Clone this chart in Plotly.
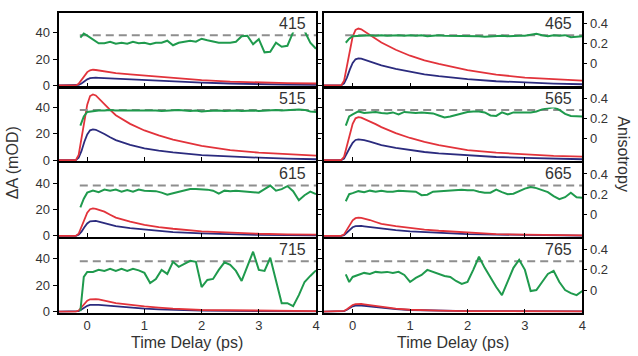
import plotly.graph_objects as go

# Probe wavelengths (nm), one panel each
WAVELENGTHS = ["415", "465", "515", "565", "615", "665", "715", "765"]

# Kinetics time axis (ps)
K_T = [-0.5, -0.2, -0.15, -0.1, -0.05, 0.0, 0.05, 0.1, 0.15, 0.2, 0.3, 0.4,
       0.5, 0.75, 1.0, 1.25, 1.5, 2.0, 2.5, 3.0, 3.5, 4.0]

# Parallel (red) transients, ΔA in mOD
PAR = {
    "415": [0, 0, 1.2, 4.2, 7.7, 10.1, 11.5, 11.9, 11.7, 11.3, 10.6, 10.0, 9.4, 8.4, 7.5, 6.6, 5.8, 4.0, 2.9, 2.2, 1.8, 1.5],
    "465": [0, 0, 3.5, 14, 27, 37, 42, 43.1, 42.5, 41, 38.5, 35.5, 32.5, 27, 22.5, 19, 16.3, 11.6, 8.2, 6.0, 4.7, 3.7],
    "515": [0, 0, 4, 16, 30, 42, 48.5, 49.8, 49, 47, 42.5, 38, 34, 27.5, 22.5, 18.8, 15.6, 10.8, 7.6, 5.7, 4.4, 3.4],
    "565": [0, 0, 2.6, 10.5, 19.5, 27.5, 31.7, 32.5, 32.2, 31.3, 29.5, 27.3, 25, 20.5, 16.8, 13.8, 11.4, 7.6, 5.7, 4.2, 3.2, 2.7],
    "615": [0, 0, 1.6, 6.5, 12.5, 17.5, 20.2, 20.8, 20.5, 19.8, 18.3, 16, 13.8, 10.8, 8.4, 6.7, 5.4, 3.4, 2.4, 1.6, 1.2, 0.9],
    "665": [0, 0, 1.1, 4.4, 8.4, 11.8, 13.4, 13.8, 13.6, 13.1, 12, 10.5, 9.1, 7.4, 5.9, 4.8, 3.9, 2.4, 1.4, 0.9, 0.6, 0.4],
    "715": [0, 0, 0.8, 3, 5.8, 8.2, 9.3, 9.6, 9.5, 9.2, 8.5, 7.4, 6.4, 5.0, 3.9, 3.0, 2.2, 1.2, 0.9, 0.7, 0.5, 0.4],
    "765": [0, 0, 0.5, 1.8, 3.5, 5.0, 5.7, 5.9, 5.8, 5.5, 4.9, 4.0, 3.2, 2.2, 1.4, 1.0, 0.7, 0.4, 0.3, 0.2, 0.2, 0.2],
}

# Perpendicular (blue) transients, ΔA in mOD
PERP = {
    "415": [0, 0, 0.4, 1.5, 3.2, 4.6, 5.5, 5.9, 5.9, 5.8, 5.6, 5.3, 5.0, 4.5, 3.9, 3.4, 2.9, 2.2, 1.5, 0.9, 0.6, 0.4],
    "465": [0, 0, 1.5, 6, 12, 17, 19.8, 20.5, 20.3, 19.6, 18.4, 16.8, 15.2, 12.5, 10.2, 8.4, 7.0, 4.8, 3.2, 2.2, 1.4, 0.9],
    "515": [0, 0, 1.8, 7, 14, 19.5, 22.6, 23.3, 23, 22, 19.8, 17.3, 15.2, 11.6, 9.0, 7.2, 5.9, 3.9, 2.7, 1.9, 1.2, 0.7],
    "565": [0, 0, 1.2, 4.8, 9.4, 13.2, 15.3, 15.8, 15.6, 15.1, 14.1, 12.8, 11.4, 9.3, 7.6, 6.2, 5.2, 3.7, 2.4, 1.7, 1.2, 0.7],
    "615": [0, 0, 0.8, 3.2, 6.5, 9.4, 11, 11.4, 11.3, 10.8, 9.8, 8.4, 7.3, 5.8, 4.7, 3.7, 2.9, 1.9, 1.2, 0.7, 0.5, 0.4],
    "665": [0, 0, 0.6, 2.4, 4.6, 6.5, 7.4, 7.6, 7.5, 7.2, 6.6, 6.0, 5.4, 4.3, 3.4, 2.8, 2.2, 1.4, 1.0, 0.7, 0.4, 0.2],
    "715": [0, 0, 0.4, 1.6, 3.2, 4.4, 5.0, 5.2, 5.1, 5.0, 4.6, 4.1, 3.7, 2.9, 2.2, 1.7, 1.2, 0.7, 0.5, 0.3, 0.2, 0.2],
    "765": [0, 0, 0.4, 1.4, 2.8, 4.0, 4.5, 4.7, 4.6, 4.4, 3.9, 3.3, 2.7, 1.9, 1.2, 0.9, 0.6, 0.4, 0.3, 0.2, 0.2, 0.2],
}

# Anisotropy time axis (ps)
A_T = [-0.12, -0.06, 0.0, 0.1, 0.2, 0.3, 0.4, 0.5, 0.6, 0.7, 0.8, 0.9, 1.0,
       1.1, 1.2, 1.3, 1.4, 1.5, 1.6, 1.7, 1.8, 1.9, 2.0, 2.1, 2.2, 2.3, 2.4,
       2.5, 2.6, 2.7, 2.8, 2.9, 3.0, 3.1, 3.2, 3.3, 3.4, 3.5, 3.6, 3.7, 3.8,
       3.9, 4.0]

# Anisotropy r(t) (green)
ANIS = {
    "415": [0.26, 0.30, 0.28, 0.24, 0.205, 0.205, 0.22, 0.20, 0.21, 0.20, 0.22, 0.205, 0.21,
            0.195, 0.21, 0.21, 0.23, 0.185, 0.21, 0.22, 0.23, 0.22, 0.25, 0.235, 0.22, 0.21, 0.21,
            0.21, 0.22, 0.275, 0.28, 0.195, 0.245, 0.115, 0.12, 0.21, 0.17, 0.18, 0.315, 0.39, 0.325,
            0.21, 0.15],
    "465": [0.21, 0.25, 0.275, 0.28, 0.285, 0.285, 0.28, 0.285, 0.28, 0.285, 0.285, 0.28, 0.285,
            0.28, 0.285, 0.275, 0.28, 0.285, 0.28, 0.28, 0.28, 0.275, 0.28, 0.28, 0.275, 0.27, 0.275,
            0.275, 0.28, 0.275, 0.28, 0.28, 0.28, 0.29, 0.30, 0.285, 0.275, 0.285, 0.28, 0.285, 0.265,
            0.27, 0.275],
    "515": [0.13, 0.22, 0.265, 0.275, 0.28, 0.28, 0.285, 0.28, 0.28, 0.285, 0.28, 0.28, 0.285,
            0.28, 0.28, 0.275, 0.28, 0.28, 0.285, 0.28, 0.275, 0.28, 0.27, 0.275, 0.28, 0.28, 0.275,
            0.28, 0.28, 0.275, 0.28, 0.28, 0.275, 0.28, 0.28, 0.285, 0.28, 0.285, 0.29, 0.29, 0.285,
            0.27, 0.265],
    "565": [0.13, 0.22, 0.24, 0.27, 0.255, 0.26, 0.265, 0.255, 0.25, 0.26, 0.24, 0.265, 0.26,
            0.255, 0.26, 0.255, 0.25, 0.23, 0.21, 0.22, 0.235, 0.25, 0.265, 0.27, 0.27, 0.26, 0.23,
            0.225, 0.26, 0.24, 0.26, 0.26, 0.26, 0.26, 0.27, 0.29, 0.30, 0.31, 0.285, 0.245, 0.225,
            0.22, 0.22],
    "615": [0.07, 0.155, 0.215, 0.235, 0.22, 0.245, 0.235, 0.245, 0.225, 0.24, 0.225, 0.245, 0.235,
            0.235, 0.23, 0.215, 0.195, 0.21, 0.225, 0.24, 0.25, 0.25, 0.25, 0.245, 0.235, 0.205, 0.235,
            0.23, 0.235, 0.23, 0.225, 0.22, 0.215, 0.25, 0.285, 0.235, 0.25, 0.28, 0.23, 0.14, 0.19,
            0.225, 0.2],
    "665": [0.13, 0.2, 0.21, 0.23, 0.22, 0.235, 0.225, 0.235, 0.225, 0.225, 0.235, 0.23, 0.23,
            0.225, 0.19, 0.195, 0.225, 0.23, 0.235, 0.24, 0.24, 0.245, 0.24, 0.24, 0.225, 0.215, 0.215,
            0.245, 0.22, 0.2, 0.205, 0.23, 0.255, 0.27, 0.26, 0.24, 0.22, 0.18, 0.15, 0.17, 0.215,
            0.17, 0.165],
    "715": [-0.21, 0.13, 0.18, 0.18, 0.2, 0.19, 0.21, 0.19, 0.21, 0.19, 0.21, 0.195, 0.17,
            0.07, 0.11, 0.2, 0.16, 0.28, 0.23, 0.26, 0.29, 0.28, 0.03, 0.1, 0.11, 0.2, 0.275,
            0.25, 0.19, 0.09, 0.24, 0.38, 0.2, 0.19, 0.32, 0.1, -0.13, -0.13, -0.16, -0.05, 0.08,
            0.14, 0.195],
    "765": [0.155, 0.08, 0.13, 0.15, 0.17, 0.16, 0.18, 0.175, 0.18, 0.17, 0.18, 0.15, 0.08,
            0.12, 0.15, 0.2, 0.18, 0.16, 0.14, 0.13, 0.09, 0.06, 0.08, 0.2, 0.33, 0.22, 0.12,
            0.03, -0.05, 0.08, 0.22, 0.3, 0.2, -0.01, 0.0, 0.08, 0.16, 0.19, 0.08, 0.0, -0.03,
            -0.05, -0.01],
}

# Initial anisotropy reference level (dashed)
R_REF = 0.285
R_REF_T = [-0.13, 4.0]

RED = "#e2333b"
BLUE = "#2b2b7e"
GREEN = "#1f9a4d"
GREY = "#8e8e8e"
FONT = "Liberation Sans, Arial, sans-serif"
TXT = "#333333"

W, H = 638, 356
COL_X = [(59, 318), (326, 586)]
ROW_Y = [(13, 88), (89, 164), (166, 241), (243, 318)]

fig = go.Figure()
layout = dict(
    width=W, height=H, margin=dict(l=0, r=0, t=0, b=0),
    paper_bgcolor="white", plot_bgcolor="white", showlegend=False,
    font=dict(family=FONT, color=TXT, size=13),
)
annotations = []

for i, wl in enumerate(WAVELENGTHS):
    r, c = divmod(i, 2)
    k = i + 1
    k2 = i + 9
    xs = "" if k == 1 else str(k)
    xname, yname, y2name = "x" + xs, "y" + xs, "y" + str(k2)
    x0, x1 = COL_X[c]
    ytop, ybot = ROW_Y[r]
    bottom = r == 3

    layout["xaxis" + xs] = dict(
        domain=[x0 / W, x1 / W], anchor=yname, range=[-0.5, 4.0],
        tickvals=[0, 1, 2, 3, 4], ticks="inside", ticklen=4, tickwidth=1,
        tickcolor="black", showticklabels=bottom, tickfont=dict(size=13),
        showline=True, mirror=True, linewidth=2, linecolor="black",
        showgrid=False, zeroline=False,
    )
    layout["yaxis" + xs] = dict(
        domain=[1 - ybot / H, 1 - ytop / H], anchor=xname, range=[-0.8, 55],
        tickvals=[0, 20, 40], ticks="outside", ticklen=4, tickwidth=1,
        tickcolor="black", showticklabels=(c == 0), tickfont=dict(size=13),
        showline=True, mirror=True, linewidth=2, linecolor="black",
        showgrid=False, zeroline=False,
    )
    layout["yaxis" + str(k2)] = dict(
        overlaying=yname, anchor=xname, side="right", range=[-0.224, 0.507],
        tickvals=[0, 0.2, 0.4], ticktext=["0", "0.2", "0.4"],
        ticks="outside", ticklen=4, tickwidth=1, tickcolor="black",
        showticklabels=(c == 1), tickfont=dict(size=13),
        showline=False, showgrid=False, zeroline=False,
    )

    fig.add_trace(go.Scatter(x=K_T, y=PERP[wl], mode="lines", xaxis=xname, yaxis=yname,
                             line=dict(color=BLUE, width=1.8)))
    fig.add_trace(go.Scatter(x=K_T, y=PAR[wl], mode="lines", xaxis=xname, yaxis=yname,
                             line=dict(color=RED, width=1.8)))
    fig.add_trace(go.Scatter(x=R_REF_T, y=[R_REF, R_REF], mode="lines", xaxis=xname, yaxis=y2name,
                             line=dict(color=GREY, width=2, dash="8px,5px")))
    fig.add_trace(go.Scatter(x=A_T, y=ANIS[wl], mode="lines", xaxis=xname, yaxis=y2name,
                             line=dict(color=GREEN, width=2)))

    annotations.append(dict(
        text=wl, xref=xname + " domain", yref=yname + " domain", x=1, y=1,
        xanchor="right", yanchor="top", xshift=-9, yshift=-1, showarrow=False,
        bgcolor="white", borderpad=0, font=dict(size=16, color=TXT),
    ))

for c in range(2):
    x0, x1 = COL_X[c]
    annotations.append(dict(
        text="Time Delay (ps)", xref="paper", yref="paper", x=(x0 + x1) / 2 / W,
        y=1 - 348 / H, xanchor="center", yanchor="middle", showarrow=False,
        font=dict(size=16, color=TXT),
    ))

annotations.append(dict(
    text="ΔA (mOD)", xref="paper", yref="paper", x=12 / W, y=1 - 165 / H,
    textangle=-90, xanchor="center", yanchor="middle", showarrow=False,
    font=dict(size=16, color=TXT),
))
annotations.append(dict(
    text="Anisotropy", xref="paper", yref="paper", x=628 / W, y=1 - 157 / H,
    textangle=90, xanchor="center", yanchor="middle", showarrow=False,
    font=dict(size=16, color=TXT),
))

layout["annotations"] = annotations
fig.update_layout(**layout)
fig.write_html("out.html")
